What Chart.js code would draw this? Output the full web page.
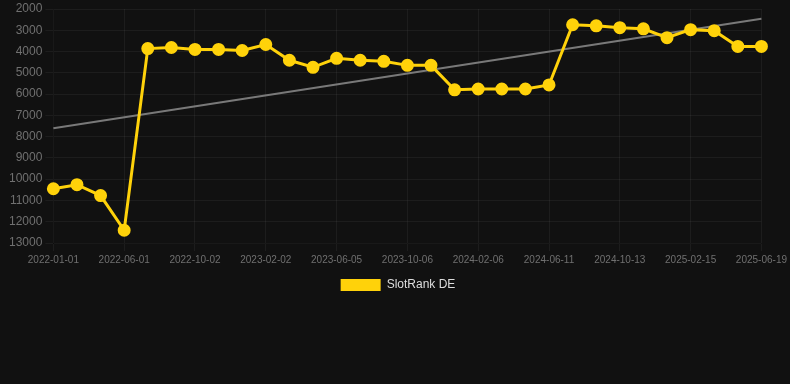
<!DOCTYPE html>
<html>
<head>
<meta charset="utf-8">
<script src="https://cdn.jsdelivr.net/npm/chart.js@4"></script>
<style>
  html, body { margin: 0; padding: 0; background: #111111; }
  #wrap { width: 790px; height: 301px; position: relative; }
</style>
</head>
<body>
<div id="wrap"><canvas id="chart"></canvas></div>
<script>
// dates of each rank sample (only every 3rd one is shown on the axis)
const dates = [
  '2022-01-01', '2022-02-20', '2022-04-11', '2022-06-01', '2022-07-12', '2022-08-22',
  '2022-10-02', '2022-11-12', '2022-12-23', '2023-02-02', '2023-03-16', '2023-04-25',
  '2023-06-05', '2023-07-16', '2023-08-26', '2023-10-06', '2023-11-16', '2023-12-27',
  '2024-02-06', '2024-03-18', '2024-04-30', '2024-06-11', '2024-07-22', '2024-09-01',
  '2024-10-13', '2024-11-23', '2025-01-04', '2025-02-15', '2025-03-28', '2025-05-09',
  '2025-06-19'
];
const rankDE = [
  10450, 10260, 10770, 12400, 3860, 3810, 3900, 3900, 3950, 3670, 4410,
  4740, 4320, 4410, 4460, 4650, 4650, 5800, 5760, 5760, 5760, 5570,
  2740, 2790, 2880, 2930, 3350, 2970, 3020, 3760, 3760
];
const trendStart = 7610;
const trendEnd = 2460;

const yellow = '#FFD20A';
const gridCol = 'rgba(255,255,255,0.05)';

new Chart(document.getElementById('chart'), {
  type: 'line',
  data: {
    labels: dates,
    datasets: [
      {
        label: 'SlotRank DE',
        data: rankDE,
        borderColor: yellow,
        backgroundColor: yellow,
        borderWidth: 3,
        pointRadius: 5,
        pointHoverRadius: 6,
        tension: 0
      },
      {
        label: 'trend',
        data: [{ x: dates[0], y: trendStart }, { x: dates[dates.length - 1], y: trendEnd }],
        borderColor: 'rgba(140,140,140,0.85)',
        borderWidth: 2,
        pointRadius: 0,
        fill: false
      }
    ]
  },
  options: {
    responsive: true,
    maintainAspectRatio: false,
    animation: false,
    layout: { padding: { left: 6, right: 0, top: 0, bottom: 0 } },
    plugins: {
      legend: {
        position: 'bottom',
        labels: {
          color: '#dddddd',
          font: { family: 'Arial, Liberation Sans', size: 12 },
          boxWidth: 40,
          boxHeight: 12,
          generateLabels: function (chart) {
            const items = Chart.defaults.plugins.legend.labels.generateLabels(chart);
            return items
              .filter(it => it.text !== 'trend')
              .map(it => Object.assign(it, { lineWidth: 0 }));
          }
        }
      },
      tooltip: { enabled: false }
    },
    scales: {
      x: {
        grid: {
          color: ctx => (ctx.index % 3 === 0 ? gridCol : 'rgba(0,0,0,0)')
        },
        ticks: {
          color: '#707070',
          font: { family: 'Arial, Liberation Sans', size: 10 },
          autoSkip: false,
          maxRotation: 0,
          callback: function (v, i) { return i % 3 === 0 ? dates[i] : ''; }
        }
      },
      y: {
        reverse: true,
        min: 2000,
        max: 13000,
        grid: { color: gridCol },
        ticks: {
          stepSize: 1000,
          color: '#707070',
          font: { family: 'Arial, Liberation Sans', size: 12, lineHeight: 0.6 },
          callback: v => String(v)
        }
      }
    }
  }
});
</script>
</body>
</html>
